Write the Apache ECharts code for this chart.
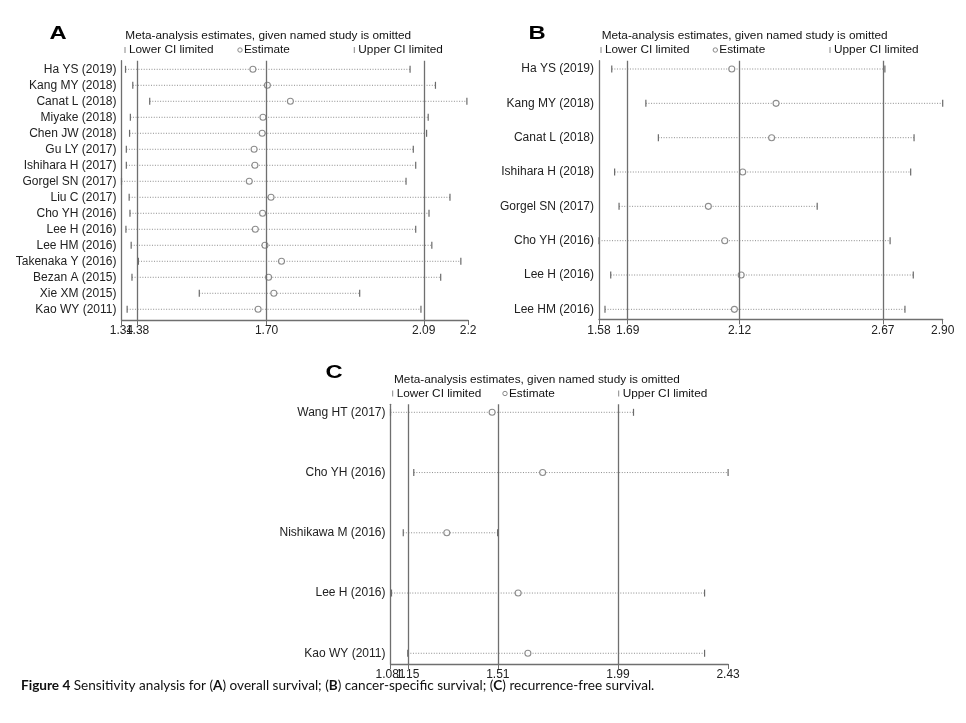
<!DOCTYPE html>
<html><head><meta charset="utf-8">
<script src="https://cdn.jsdelivr.net/npm/echarts@6/dist/echarts.min.js"></script>
<style>html,body{margin:0;padding:0;background:#fff}#c{width:966px;height:723px}</style>
</head><body><div id="c"></div>
<script>
// ---------- Panel A: overall survival ----------
const studiesA = ['Ha YS (2019)','Kang MY (2018)','Canat L (2018)','Miyake (2018)','Chen JW (2018)','Gu LY (2017)','Ishihara H (2017)','Gorgel SN (2017)','Liu C (2017)','Cho YH (2016)','Lee H (2016)','Lee HM (2016)','Takenaka Y (2016)','Bezan A (2015)','Xie XM (2015)','Kao WY (2011)'];
const lowerA = [1.350,1.368,1.410,1.362,1.360,1.352,1.352,1.340,1.359,1.361,1.351,1.364,1.382,1.366,1.533,1.354];
const estA   = [1.666,1.702,1.759,1.691,1.689,1.669,1.671,1.657,1.711,1.690,1.672,1.696,1.737,1.705,1.718,1.679];
const upperA = [2.056,2.119,2.197,2.101,2.097,2.064,2.070,2.046,2.155,2.103,2.070,2.110,2.182,2.132,1.931,2.083];
const refA = [1.38, 1.70, 2.09];
const ticksA = [1.34, 1.38, 1.70, 2.09, 2.2];
const tickLabelsA = ['1.34','1.38','1.70','2.09','2.2'];

// ---------- Panel B: cancer-specific survival ----------
const studiesB = ['Ha YS (2019)','Kang MY (2018)','Canat L (2018)','Ishihara H (2018)','Gorgel SN (2017)','Cho YH (2016)','Lee H (2016)','Lee HM (2016)'];
const lowerB = [1.629,1.760,1.808,1.640,1.657,1.580,1.625,1.603];
const estB   = [2.090,2.260,2.243,2.132,2.000,2.063,2.126,2.100];
const upperB = [2.678,2.900,2.790,2.777,2.418,2.698,2.787,2.755];
const refB = [1.69, 2.12, 2.67];
const ticksB = [1.58, 1.69, 2.12, 2.67, 2.90];
const tickLabelsB = ['1.58','1.69','2.12','2.67','2.90'];

// ---------- Panel C: recurrence-free survival ----------
const studiesC = ['Wang HT (2017)','Cho YH (2016)','Nishikawa M (2016)','Lee H (2016)','Kao WY (2011)'];
const lowerC = [1.081,1.174,1.132,1.085,1.150];
const estC   = [1.487,1.689,1.306,1.591,1.630];
const upperC = [2.052,2.430,1.509,2.336,2.336];
const refC = [1.15, 1.51, 1.99];
const ticksC = [1.081, 1.15, 1.51, 1.99, 2.43];
const tickLabelsC = ['1.081','1.15','1.51','1.99','2.43'];

const FONT = 'Liberation Sans, Arial, sans-serif';
const AXIS_COLOR = '#6f6f6f';

const panels = [
  {studies: studiesA, lower: lowerA, est: estA, upper: upperA, ref: refA, ticks: ticksA, labels: tickLabelsA,
   grid: {left: 121.5, top: 60.7, width: 346.6, height: 259.3}, ymin: 0.4625, ymax: 16.67},
  {studies: studiesB, lower: lowerB, est: estB, upper: upperB, ref: refB, ticks: ticksB, labels: tickLabelsB,
   grid: {left: 599, top: 60.7, width: 343.7, height: 258.6}, ymin: 0.758, ymax: 8.29},
  {studies: studiesC, lower: lowerC, est: estC, upper: upperC, ref: refC, ticks: ticksC, labels: tickLabelsC,
   grid: {left: 390.5, top: 404.3, width: 337.6, height: 259.7}, ymin: 0.867, ymax: 5.178}
];

const grids = [], xAxes = [], xAxes2 = [], yAxes = [], series = [];
panels.forEach((p, k) => {
  grids.push(Object.assign({containLabel: false}, p.grid));
  const fmt = v => { const i = p.ticks.findIndex(t => Math.abs(t - v) < 1e-6); return i >= 0 ? p.labels[i] : ''; };
  const evenTicks = p.ticks.filter((_, i) => i % 2 === 0);
  const oddTicks = p.ticks.filter((_, i) => i % 2 === 1);
  xAxes.push({
    type: 'value', gridIndex: k, position: 'bottom',
    min: p.ticks[0], max: p.ticks[p.ticks.length - 1],
    axisLine: {show: true, onZero: false, lineStyle: {color: AXIS_COLOR, width: 1.3}},
    axisTick: {show: true, customValues: p.ticks, length: 5, lineStyle: {color: AXIS_COLOR, width: 1}},
    axisLabel: {
      customValues: evenTicks, margin: 5, fontSize: 12, color: '#222', fontFamily: FONT,
      showMinLabel: true, showMaxLabel: true, hideOverlap: false, formatter: fmt
    },
    splitLine: {show: false}
  });
  // companion axis carrying the remaining tick labels (so close labels may overlap like the original)
  xAxes2.push({
    type: 'value', gridIndex: k, position: 'bottom', offset: 0,
    min: p.ticks[0], max: p.ticks[p.ticks.length - 1],
    axisLine: {show: false, onZero: false}, axisTick: {show: false},
    axisLabel: {
      customValues: oddTicks, margin: 5, fontSize: 12, color: '#222', fontFamily: FONT,
      showMinLabel: true, showMaxLabel: true, hideOverlap: false, formatter: fmt
    },
    splitLine: {show: false}
  });
  const rows = p.studies.map((_, i) => i + 1);
  yAxes.push({
    type: 'value', gridIndex: k, inverse: true, min: p.ymin, max: p.ymax,
    axisLine: {show: true, onZero: false, lineStyle: {color: AXIS_COLOR, width: 1.3}},
    axisTick: {show: false},
    axisLabel: {
      customValues: rows, margin: 5, fontSize: 12, color: '#222', fontFamily: FONT,
      formatter: v => p.studies[Math.round(v) - 1] || ''
    },
    splitLine: {show: false}
  });
  // CI dotted lines with end ticks
  series.push({
    type: 'custom', xAxisIndex: k, yAxisIndex: k, clip: false, silent: true, z: 3,
    data: p.studies.map((_, i) => [i + 1, p.lower[i], p.upper[i]]),
    renderItem: (params, api) => {
      const r = api.value(0);
      const lo = api.coord([api.value(1), r]);
      const hi = api.coord([api.value(2), r]);
      return {type: 'group', children: [
        {type: 'line', shape: {x1: lo[0], y1: lo[1], x2: hi[0], y2: hi[1]},
         style: {stroke: '#8c8c8c', lineWidth: 1, lineDash: [1, 1.6]}},
        {type: 'line', shape: {x1: lo[0], y1: lo[1] - 3.5, x2: lo[0], y2: lo[1] + 3.5},
         style: {stroke: '#6a6a6a', lineWidth: 1.2}},
        {type: 'line', shape: {x1: hi[0], y1: hi[1] - 3.5, x2: hi[0], y2: hi[1] + 3.5},
         style: {stroke: '#6a6a6a', lineWidth: 1.2}}
      ]};
    }
  });
  // Estimates
  series.push({
    type: 'scatter', xAxisIndex: k, yAxisIndex: k, silent: true, z: 4,
    symbol: 'circle', symbolSize: 6,
    itemStyle: {color: '#fff', borderColor: '#707070', borderWidth: 1.1},
    data: p.studies.map((_, i) => [p.est[i], i + 1]),
    markLine: {
      silent: true, symbol: ['none', 'none'], label: {show: false}, animation: false,
      lineStyle: {color: AXIS_COLOR, width: 1.3, type: 'solid'},
      data: p.ref.map(v => ({xAxis: v}))
    }
  });
});

// Panel letters, legends and caption (layout text)
function legend(hx, hy, ly, lowX, estX, upX) {
  const txt = (x, y, s) => ({type: 'text', x: x, y: y, style: {text: s, fontSize: 11.8, fontFamily: FONT, fill: '#111', textVerticalAlign: 'middle'}});
  const bar = (x, y) => ({type: 'line', shape: {x1: x, y1: y - 3, x2: x, y2: y + 3}, style: {stroke: '#888', lineWidth: 1}});
  return [
    txt(hx, hy, 'Meta-analysis estimates, given named study is omitted'),
    bar(lowX, ly), txt(lowX + 4, ly, 'Lower CI limited'),
    {type: 'circle', shape: {cx: estX, cy: ly, r: 2.2}, style: {fill: '#fff', stroke: '#888', lineWidth: 1}},
    txt(estX + 4, ly, 'Estimate'),
    bar(upX, ly), txt(upX + 4, ly, 'Upper CI limited')
  ];
}
const letter = (x, y, s) => ({type: 'text', x: x, y: y, scaleX: 1.25,
  style: {text: s, fontSize: 19, fontWeight: 'bold', fontFamily: FONT, fill: '#000', textAlign: 'center', textVerticalAlign: 'middle'}});

const graphics = [
  letter(58, 34, 'A'), letter(537, 34, 'B'), letter(334, 373, 'C'),
  ...legend(125.3, 36, 50, 125, 240, 354.3),
  ...legend(601.7, 36, 50, 601, 715.3, 830),
  ...legend(394, 380, 393.5, 392.7, 505, 618.7),
  {type: 'text', x: 21, y: 686, style: {
    text: '{b|Figure 4} Sensitivity analysis for ({b|A}) overall survival; ({b|B}) cancer-specific survival; ({b|C}) recurrence-free survival.',
    fontSize: 13.6, fontFamily: 'Lato, sans-serif', fill: '#111', textVerticalAlign: 'middle',
    rich: {b: {fontWeight: 'bold', fontSize: 13.6, fontFamily: 'Lato, sans-serif', fill: '#111'}}
  }}
];

const chart = echarts.init(document.getElementById('c'), null, {renderer: 'canvas'});
chart.setOption({
  animation: false,
  backgroundColor: '#fff',
  grid: grids, xAxis: xAxes.concat(xAxes2), yAxis: yAxes, series: series,
  graphic: graphics
});
</script></body></html>
